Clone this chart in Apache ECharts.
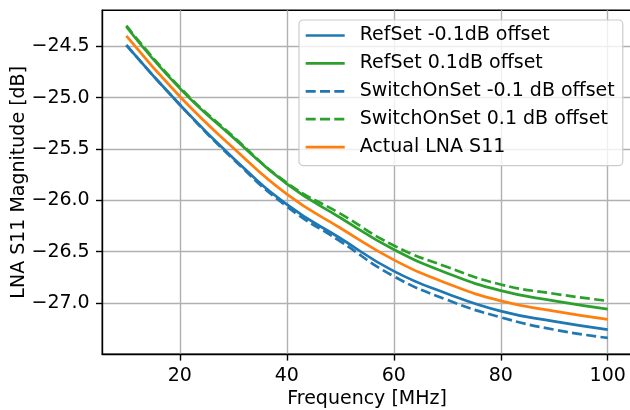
<!DOCTYPE html>
<html>
<head>
<meta charset="utf-8">
<script src="https://cdn.jsdelivr.net/npm/echarts@6/dist/echarts.min.js"></script>
<style>
  html, body { margin: 0; padding: 0; background: #fff; }
  #chart { width: 630px; height: 410px; }
</style>
</head>
<body>
<div id="chart"></div>
<script>
// Frequency sweep points [MHz]
const freq = [10, 20, 30, 40, 50, 60, 70, 80, 90, 100];

// S11 magnitude curves [dB]
const refSetNeg = [-24.49, -25.07, -25.59, -26.04, -26.37, -26.69, -26.91, -27.08, -27.18, -27.26];
const refSetPos = [-24.31, -24.91, -25.39, -25.84, -26.17, -26.48, -26.71, -26.88, -26.98, -27.06];
const switchOnNeg = [-24.49, -25.07, -25.60, -26.06, -26.40, -26.74, -26.97, -27.14, -27.26, -27.34];
const switchOnPos = [-24.30, -24.90, -25.38, -25.83, -26.13, -26.44, -26.65, -26.82, -26.91, -26.98];
const actualS11 = [-24.40, -24.99, -25.49, -25.94, -26.27, -26.58, -26.81, -26.98, -27.08, -27.16];

// Tick labels
const xTicks = [20, 40, 60, 80, 100];
const yTicks = [-27.0, -26.5, -26.0, -25.5, -25.0, -24.5];

const seriesNames = [
  'RefSet -0.1dB offset',
  'RefSet 0.1dB offset',
  'SwitchOnSet -0.1 dB offset',
  'SwitchOnSet 0.1 dB offset',
  'Actual LNA S11'
];

const FONT = 'DejaVu Sans';
const FS = 19;
const BLUE = '#1f77b4', ORANGE = '#ff7f0e', GREEN = '#2ca02c';
const LW = 2.7;
const DASH = [10, 4.3];

// legend keys: a short solid bar or three dashes
const ICON_SOLID = 'path://M0,0H39V2.7H0Z';
const ICON_DASHED = 'path://M0,0H10V2.7H0Z M14.3,0H24.3V2.7H14.3Z M28.6,0H38.6V2.7H28.6Z M38.99,0H39V2.7H38.99Z';

function pairs(ys) {
  return freq.map((f, i) => [f, ys[i]]);
}

function lineSeries(name, ys, color, dashed) {
  return {
    name: name,
    type: 'line',
    data: pairs(ys),
    smooth: 0.5,
    symbol: 'none',
    showSymbol: false,
    itemStyle: { color: color },
    lineStyle: { color: color, width: LW, type: dashed ? DASH : 'solid', cap: 'butt' },
    emphasis: { disabled: true }
  };
}

const legendData = [
  { name: seriesNames[0], icon: ICON_SOLID },
  { name: seriesNames[1], icon: ICON_SOLID },
  { name: seriesNames[2], icon: ICON_DASHED },
  { name: seriesNames[3], icon: ICON_DASHED },
  { name: seriesNames[4], icon: ICON_SOLID }
];

const chart = echarts.init(document.getElementById('chart'), null, { renderer: 'canvas' });

chart.setOption({
  animation: false,
  backgroundColor: '#ffffff',
  textStyle: { fontFamily: FONT, color: '#000' },
  grid: {
    left: 102.3,
    top: 10.3,
    right: -1.8,
    bottom: 55.7,
    outerBoundsMode: 'none',
    containLabel: false,
    show: true,
    borderColor: '#000',
    borderWidth: 1.4,
    backgroundColor: 'transparent'
  },
  xAxis: {
    type: 'value',
    min: 5.5,
    max: 104.5,
    splitNumber: 5,
    name: 'Frequency [MHz]',
    nameLocation: 'middle',
    nameGap: 35,
    nameMoveOverlap: false,
    nameTextStyle: { fontFamily: FONT, fontSize: FS, color: '#000' },
    axisLine: { show: true, lineStyle: { color: '#000', width: 1.4 } },
    axisTick: { show: true, customValues: xTicks, length: 6.3, lineStyle: { color: '#000', width: 1.4 } },
    axisLabel: {
      customValues: xTicks,
      margin: 12,
      fontFamily: FONT,
      fontSize: FS,
      color: '#000'
    },
    splitLine: { show: true, lineStyle: { color: '#b0b0b0', width: 1.4 } }
  },
  yAxis: {
    type: 'value',
    min: -27.5,
    max: -24.15,
    interval: 0.5,
    name: 'LNA S11 Magnitude [dB]',
    nameLocation: 'middle',
    nameGap: 74,
    nameMoveOverlap: false,
    nameTextStyle: { fontFamily: FONT, fontSize: FS, color: '#000' },
    axisLine: { show: true, lineStyle: { color: '#000', width: 1.4 } },
    axisTick: { show: true, customValues: yTicks, length: 6.3, lineStyle: { color: '#000', width: 1.4 } },
    axisLabel: {
      customValues: yTicks,
      margin: 12.6,
      fontFamily: FONT,
      fontSize: FS,
      color: '#000',
      formatter: v => (v < 0 ? '\u2212' : '') + Math.abs(v).toFixed(1)
    },
    splitLine: { show: true, lineStyle: { color: '#b0b0b0', width: 1.4 } }
  },
  legend: {
    data: legendData,
    orient: 'vertical',
    left: 299,
    top: 20,
    itemWidth: 39,
    itemHeight: 14,
    itemGap: 8.9,
    padding: [6, 8, 9, 6.7],
    backgroundColor: 'rgba(255,255,255,0.8)',
    borderColor: '#cccccc',
    borderWidth: 1.2,
    borderRadius: 4,
    selectedMode: false,
    textStyle: { fontFamily: FONT, fontSize: FS, color: '#000', padding: [0, 0, 0, 10] }
  },
  series: [
    lineSeries(seriesNames[0], refSetNeg, BLUE, false),
    lineSeries(seriesNames[1], refSetPos, GREEN, false),
    lineSeries(seriesNames[2], switchOnNeg, BLUE, true),
    lineSeries(seriesNames[3], switchOnPos, GREEN, true),
    lineSeries(seriesNames[4], actualS11, ORANGE, false)
  ]
});
</script>
</body>
</html>
